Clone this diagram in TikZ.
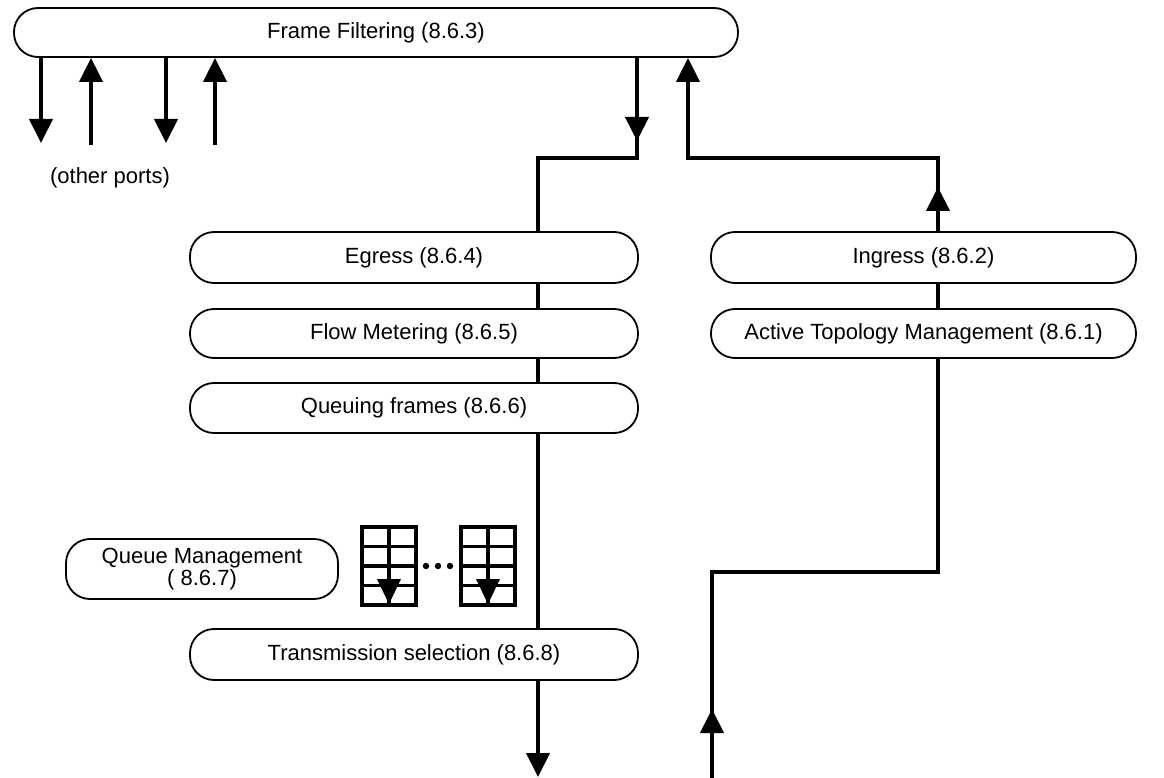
\documentclass[tikz,border=0pt]{standalone}
\usepackage{fontspec}
\setmainfont{Liberation Sans}
\usetikzlibrary{arrows.meta}
\begin{document}
\begin{tikzpicture}[x=1pt,y=-1pt,
  box/.style={draw,line width=1.8pt,rounded corners=24pt,inner sep=0pt,
    font=\fontsize{22}{22}\selectfont,align=center},
  flow/.style={line width=4pt},
  tip/.style={-{Triangle[width=23pt,length=24pt]}},
  qgrid/.style={line width=3.4pt},
]
\useasboundingbox (0,0) rectangle (1164,778);

% boxes
\node[box,minimum width=724pt,minimum height=49pt] (ff) at (376,32.5) {Frame Filtering (8.6.3)};
\node[box,minimum width=448pt,minimum height=51pt] (eg) at (414,257.5) {Egress (8.6.4)};
\node[box,minimum width=425pt,minimum height=51pt] (ing) at (923.5,257.5) {Ingress (8.6.2)};
\node[box,minimum width=448pt,minimum height=49pt] (fm) at (414,333.5) {Flow Metering (8.6.5)};
\node[box,minimum width=425pt,minimum height=49pt] (atm) at (923.5,333.5) {Active Topology Management (8.6.1)};
\node[box,minimum width=448pt,minimum height=50pt] (qf) at (414,408) {Queuing frames (8.6.6)};
\node[box,minimum width=272pt,minimum height=60pt] (qm) at (202,569) {Queue Management\\( 8.6.7)};
\node[box,minimum width=448pt,minimum height=51pt] (ts) at (414,654.5) {Transmission selection (8.6.8)};

\node[font=\fontsize{22}{22}\selectfont] (op) at (110,178) {(other ports)};

% other-port arrows
\coordinate (p1) at (41,143);
\coordinate (p2) at (91,145);
\coordinate (p3) at (166,143);
\coordinate (p4) at (215,145);
\draw[flow,tip] (ff.south -| p1) -- (p1);
\draw[flow,tip] (p2) -- (p2 |- ff.south);
\draw[flow,tip] (ff.south -| p3) -- (p3);
\draw[flow,tip] (p4) -- (p4 |- ff.south);

% egress path
\coordinate (e1) at (637,158);
\coordinate (e2) at (538,158);
\coordinate (e1tip) at (637,141);
\draw[flow] (ff.south -| e1) -- (e1) -- (e2) -- (eg.north -| e2);
\draw[flow,tip] (ff.south -| e1) -- (e1tip);
\draw[flow] (eg.south -| e2) -- (fm.north -| e2);
\draw[flow] (fm.south -| e2) -- (qf.north -| e2);
\draw[flow] (qf.south -| e2) -- (ts.north -| e2);
\coordinate (outtip) at (538,777);
\draw[flow,tip] (ts.south -| e2) -- (outtip);

% ingress path
\coordinate (i1) at (938,158);
\coordinate (i2) at (688,158);
\coordinate (i1tip) at (938,187);
\draw[flow,tip] (ing.north -| i1) -- (i1) -- (i2) -- (i2 |- ff.south);
\draw[flow,tip] (ing.north -| i1) -- (i1tip);
\draw[flow] (atm.north -| i1) -- (ing.south -| i1);
\coordinate (inbot) at (712,778);
\coordinate (inbend) at (712,572);
\coordinate (inbend2) at (938,572);
\coordinate (intip) at (712,709);
\draw[flow] (inbot) -- (inbend) -- (inbend2) -- (atm.south -| inbend2);
\draw[flow,tip] (inbot) -- (intip);

% queue icons
\foreach \x in {362,461}{
  \draw[qgrid] (\x,527) rectangle (\x+54,605);
  \draw[qgrid] (\x+27,527) -- (\x+27,605);
  \draw[qgrid] (\x,546.5) -- (\x+54,546.5);
  \draw[qgrid] (\x,566) -- (\x+54,566);
  \draw[qgrid] (\x,585.5) -- (\x+54,585.5);
  \fill (\x+15,579) -- (\x+39,579) -- (\x+27,604) -- cycle;
}
\foreach \x in {426,438,450}{\fill (\x,566) circle (3.2pt);}
\end{tikzpicture}
\end{document}
